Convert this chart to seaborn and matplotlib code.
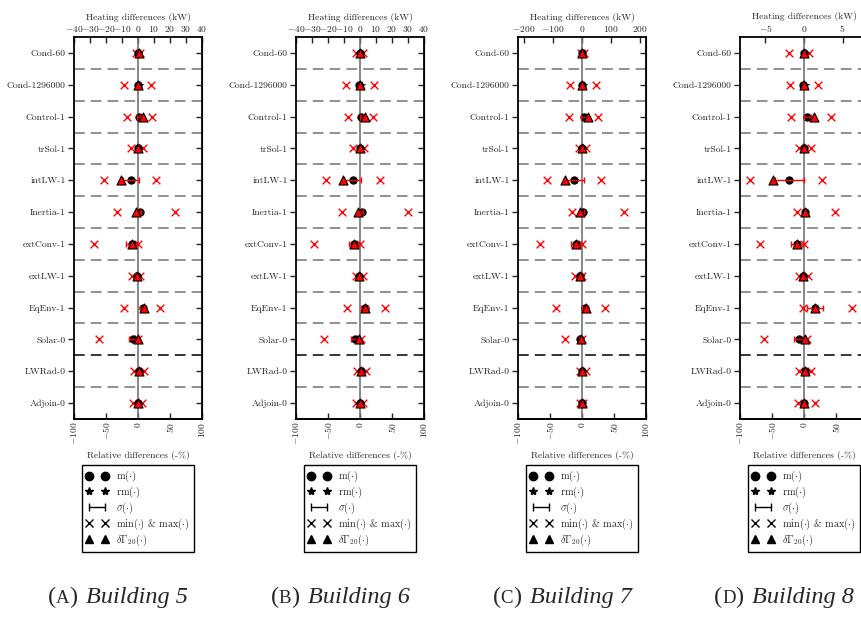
import numpy as np
import matplotlib.pyplot as plt
import seaborn as sns
from matplotlib.lines import Line2D
from matplotlib.offsetbox import TextArea, HPacker, AnnotationBbox

sns.set_style('ticks')
plt.rcParams['font.family'] = ['cmr10', 'DejaVu Serif']
plt.rcParams['mathtext.fontset'] = 'cm'
plt.rcParams['axes.formatter.use_mathtext'] = True
plt.rcParams['axes.unicode_minus'] = True

# Cases (top to bottom)
cases = ['Cond-60', 'Cond-1296000', 'Control-1', 'trSol-1', 'intLW-1', 'Inertia-1',
         'extConv-1', 'extLW-1', 'EqEnv-1', 'Solar-0', 'LWRad-0', 'Adjoin-0']

# Building 5 (kW)
b5_mean = [0.2, 0.0, 0.5, 0.0, -4.6, 1.0, -4.0, -0.8, 3.0, -3.0, 0.5, 0.0]
b5_rm = [0.5, 1.0, 2.0, 0.2, -4.0, 1.5, -4.0, -0.5, 3.0, -2.5, 0.5, 0.2]
b5_sigma = [0.8, 0.5, 1.0, 0.5, 5.0, 1.0, 3.5, 0.8, 2.0, 2.5, 0.8, 0.5]
b5_min = [-1.5, -8.7, -7.0, -4.4, -21.0, -13.3, -27.5, -3.5, -8.5, -24.4, -2.5, -3.0]
b5_max = [1.5, 8.0, 8.5, 3.2, 11.0, 23.0, 0.0, 1.2, 13.7, 0.0, 4.0, 2.3]
b5_g20 = [0.5, 0.0, 3.0, 0.0, -10.6, -1.0, -4.0, -0.8, 3.5, 0.0, 0.5, 0.0]

# Building 6 (kW)
b6_mean = [0.0, -0.4, 0.8, 0.0, -4.6, 1.0, -4.0, -0.4, 2.9, -2.9, 0.6, 0.2]
b6_rm = [0.3, 1.0, 1.5, 0.2, -4.0, 1.5, -3.8, -0.2, 3.0, -2.5, 0.6, 0.3]
b6_sigma = [0.8, 0.5, 1.0, 0.5, 5.4, 1.0, 3.1, 0.8, 2.0, 2.8, 0.8, 0.5]
b6_min = [-2.5, -8.75, -7.7, -4.6, -21.5, -11.25, -28.75, -2.5, -7.9, -22.3, -2.0, -2.7]
b6_max = [2.0, 9.0, 8.3, 2.7, 12.5, 30.2, 0.0, 1.7, 15.4, 0.4, 3.75, 2.0]
b6_g20 = [0.0, 0.0, 3.3, 0.0, -10.4, -1.0, -4.0, -0.4, 3.3, -0.8, 0.6, 0.2]

# Building 7 (kW)
b7_mean = [0, 0, 7.5, 0, -26, 3, -19.5, -5.4, 11, -7.5, 0, 0]
b7_rm = [1, 7, 14, 1, -24, 5, -19, -4, 11, -6, 1, 0]
b7_sigma = [3, 3, 12, 3, 34, 5, 17, 4, 10, 4, 3, 2]
b7_min = [-5, -42, -45, -9, -121, -33.5, -146, -24, -89, -58, -6.5, -6.5]
b7_max = [7, 49, 55, 14, 65, 144, 0, 1, 78, 0, 15, 5]
b7_g20 = [0, 0, 22, 0, -59, -6.5, -19.5, -5.4, 15, -2, 0, 0]

# Building 8 (kW)
b8_mean = [0, -0.1, 0.45, 0, -1.9, 0.1, -0.9, -0.1, 1.45, -0.65, 0.1, 0]
b8_rm = [0.05, 0.2, 0.7, 0.05, -1.9, 0.1, -0.9, -0.05, 1.45, -0.6, 0.1, 0.0]
b8_sigma = [0.1, 0.1, 0.5, 0.1, 1.85, 0.1, 0.8, 0.1, 1.0, 0.6, 0.1, 0.1]
b8_min = [-1.9, -1.85, -1.75, -0.65, -7.05, -0.95, -5.7, -0.7, -0.15, -5.2, -0.65, -0.8]
b8_max = [0.7, 1.85, 3.55, 0.95, 2.35, 4.05, 0.0, 0.55, 6.2, 0.4, 0.9, 1.45]
b8_g20 = [0, 0, 1.3, 0, -4.0, 0.1, -0.9, -0.1, 1.45, 0.1, 0.1, 0]

kw_ticks_ab = [-40, -30, -20, -10, 0, 10, 20, 30, 40]
kw_ticks_c = [-200, -100, 0, 100, 200]
kw_ticks_d = [-5, 0, 5]
rel_ticks = [-100, -50, 0, 50, 100]

panels = [
    ('A', 'Building 5', 40, kw_ticks_ab, b5_mean, b5_rm, b5_sigma, b5_min, b5_max, b5_g20),
    ('B', 'Building 6', 40, kw_ticks_ab, b6_mean, b6_rm, b6_sigma, b6_min, b6_max, b6_g20),
    ('C', 'Building 7', 220, kw_ticks_c, b7_mean, b7_rm, b7_sigma, b7_min, b7_max, b7_g20),
    ('D', 'Building 8', 8.3, kw_ticks_d, b8_mean, b8_rm, b8_sigma, b8_min, b8_max, b8_g20),
]

fig = plt.figure(figsize=(8.62, 6.17), dpi=100)
fs = 6.9
ypos = np.arange(len(cases))

for k, (tag, name, lim, kw_ticks, mean, rm, sigma, vmin, vmax, g20) in enumerate(panels):
    left = (74 + 222 * k) / 862
    ax = fig.add_axes([left, 0.321, 0.1485, 0.619])

    ax.axvline(0, color='0.45', lw=1.2, zorder=1)
    for i in range(len(cases) - 1):
        ax.axhline(i + 0.5, color='k' if i == 9 else '0.45', ls=(0, (7, 4)), lw=1.1, zorder=1)

    sns.stripplot(x=vmin + vmax, y=cases + cases, order=cases, ax=ax, jitter=False,
                  marker='x', color='red', linewidth=1, size=5.5, zorder=2)
    sns.stripplot(x=mean, y=cases, order=cases, ax=ax, jitter=False,
                  marker='o', color='black', linewidth=0, size=6, zorder=3)
    sns.stripplot(x=rm, y=cases, order=cases, ax=ax, jitter=False,
                  marker='*', color='black', linewidth=0, size=6, zorder=4)
    ax.errorbar(mean, ypos, xerr=sigma, fmt='none', ecolor='red', elinewidth=1,
                capsize=2.5, capthick=1, zorder=5)
    sns.stripplot(x=g20, y=cases, order=cases, ax=ax, jitter=False,
                  marker='^', color='red', edgecolor='black', linewidth=0.8, size=6.5, zorder=6)

    ax.set_xlim(-lim, lim)
    ax.set_ylim(len(cases) - 0.5, -0.5)
    ax.set_ylabel('')

    # top: kW
    ax.xaxis.tick_top()
    ax.xaxis.set_label_position('top')
    ax.set_xticks(kw_ticks)
    ax.set_xlabel('Heating differences (kW)', fontsize=fs, labelpad=3)
    ax.tick_params(axis='x', direction='in', length=4, pad=2, labelsize=fs, width=1)
    ax.tick_params(axis='y', direction='out', length=4, pad=2, labelsize=fs, width=1)

    # bottom: relative
    sec = ax.secondary_xaxis('bottom', functions=(lambda x, l=lim: x * 100 / l,
                                                  lambda x, l=lim: x * l / 100))
    sec.set_xticks(rel_ticks)
    sec.tick_params(direction='in', length=4, pad=2, labelsize=fs, labelrotation=90, width=1)
    sec.set_xlabel('Relative differences (-%)', fontsize=fs, labelpad=4)
    sec.spines['bottom'].set_linewidth(1.3)

    secy = ax.secondary_yaxis('right')
    secy.set_yticks(ypos)
    secy.set_yticklabels([])
    secy.tick_params(direction='in', length=4, width=1)

    for sp in ax.spines.values():
        sp.set_linewidth(1.3)
        sp.set_color('black')

    handles = [
        Line2D([], [], marker='o', color='k', ls='none', markersize=6),
        Line2D([], [], marker='*', color='k', ls='none', markersize=6),
        Line2D([], [], marker='|', color='k', lw=1, markersize=6),
        Line2D([], [], marker='x', color='k', ls='none', markersize=5.5),
        Line2D([], [], marker='^', color='k', ls='none', markersize=6),
    ]
    labels = [r'm$(\cdot)$', r'rm$(\cdot)$', r'$\sigma(\cdot)$',
              r'min$(\cdot)$ & max$(\cdot)$', r'$\delta\Gamma_{20}(\cdot)$']
    leg = ax.legend(handles, labels, loc='upper center', bbox_to_anchor=(0.5, -0.107),
                    numpoints=2, fontsize=7.4, frameon=True, fancybox=False,
                    edgecolor='black', framealpha=1, handlelength=2.1,
                    handletextpad=0.8, labelspacing=0.05, borderpad=0.4)
    leg.get_frame().set_linewidth(1.0)

    # caption "(A) Building 5" with small-caps letter
    cap_font = 'Liberation Serif'
    tag_box = HPacker(children=[
        TextArea('(', textprops=dict(family=cap_font, size=17.5)),
        TextArea(tag, textprops=dict(family=cap_font, size=13.5)),
        TextArea(')', textprops=dict(family=cap_font, size=17.5)),
    ], align='baseline', pad=0, sep=0)
    cap_box = HPacker(children=[
        tag_box,
        TextArea(name, textprops=dict(family=cap_font, style='italic', size=17.5)),
    ], align='baseline', pad=0, sep=6)
    xc = left + 0.1485 / 2 - 20 / 862
    fig.add_artist(AnnotationBbox(cap_box, (xc, 0.032), xycoords='figure fraction',
                                  frameon=False, box_alignment=(0.5, 0.5)))

fig.savefig('out.png', dpi=100)
